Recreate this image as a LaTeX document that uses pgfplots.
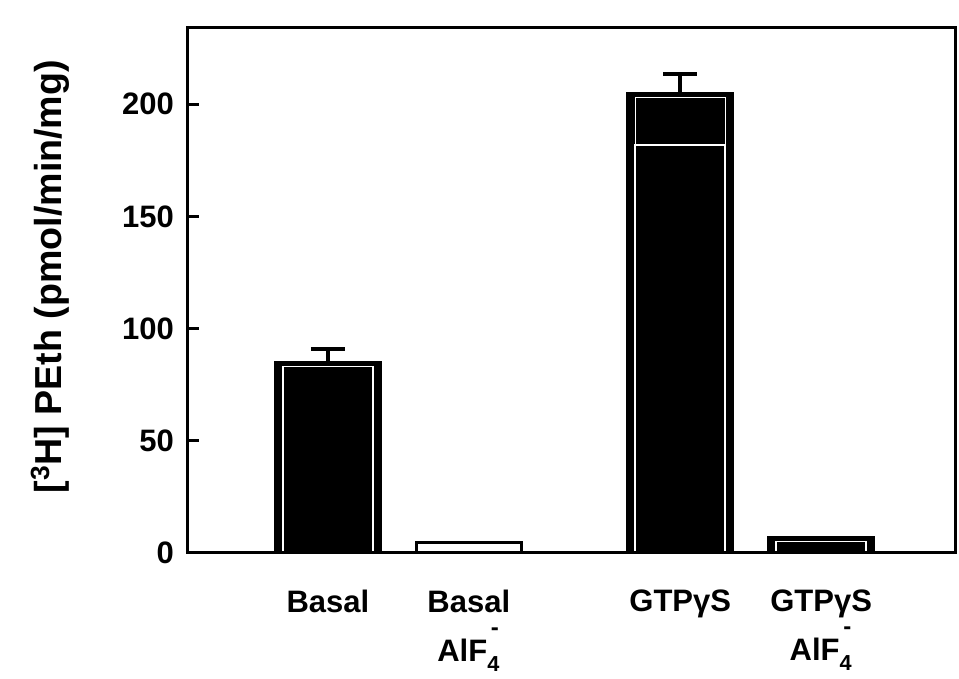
\documentclass[border=0pt]{standalone}
\usepackage{pgfplots}
\pgfplotsset{compat=1.18}
\usepackage{fontspec}
\setmainfont{Liberation Sans}
\newcommand{\alf}{AlF\makebox[0pt][l]{\hspace{0.12em}\raisebox{0.85em}[0pt][0pt]{\fontsize{12}{12}\selectfont -}}\raisebox{-0.3ex}{\textsubscript{4}}}
\begin{document}
\begin{tikzpicture}
\begin{axis}[
  scale only axis,
  width=384pt, height=262.5pt,
  xmin=0, xmax=5.45,
  ymin=0, ymax=234,
  axis on top,
  axis line style={line width=1.5pt},
  ytick={0,50,100,150,200},
  ytick pos=left,
  tick align=inside,
  major tick length=6pt,
  every tick/.style={line width=1.5pt, black},
  xtick={1,2,3.5,4.5},
  xticklabels={Basal, Basal\\[6pt]\alf, GTPγS, GTPγS\\[6pt]\alf},
  x tick style={draw=none},
  xticklabel style={font=\fontsize{15.5}{18.5}\selectfont\bfseries, align=center, anchor=north, yshift=-9pt},
  yticklabel style={font=\fontsize{15.5}{18}\selectfont\bfseries, xshift=-3pt},
  /pgf/number format/assume math mode=true,
  ylabel={[\textsuperscript{3}H] PEth (pmol/min/mg)},
  ylabel style={font=\fontsize{18.8}{21}\selectfont\bfseries, at={(axis description cs:-0.178,0.526)}, anchor=center},
  ybar, bar width=52.5pt,
  clip=false,
]
% dark bars with error bars
\addplot[bar shift=0pt, fill=black, draw=black, line width=1.5pt,
  error bars/.cd, y dir=plus, y explicit,
  error bar style={line width=2pt, black},
  error mark options={rotate=90, line width=2pt, mark size=8.5pt, black}]
  coordinates {(1,85) +- (0,6) (3.5,205) +- (0,8.5)};
% small bars
\addplot[bar shift=0pt, fill=white, draw=black, line width=1.5pt]
  coordinates {(2,4.5)};
\addplot[bar shift=0pt, fill=black, draw=black, line width=1.5pt]
  coordinates {(4.5,7)};
% inner white outlines
\addplot[bar shift=0pt, bar width=45pt, fill=none, draw=white, line width=0.7pt]
  coordinates {(1,83) (3.5,203) (4.5,5)};
\addplot[bar shift=0pt, bar width=45pt, fill=none, draw=white, line width=0.9pt]
  coordinates {(3.5,182)};
% margins of the figure
\path (axis description cs:-0.2435,-0.2267) (axis description cs:1.0052,1.0533);
\end{axis}
\end{tikzpicture}
\end{document}
